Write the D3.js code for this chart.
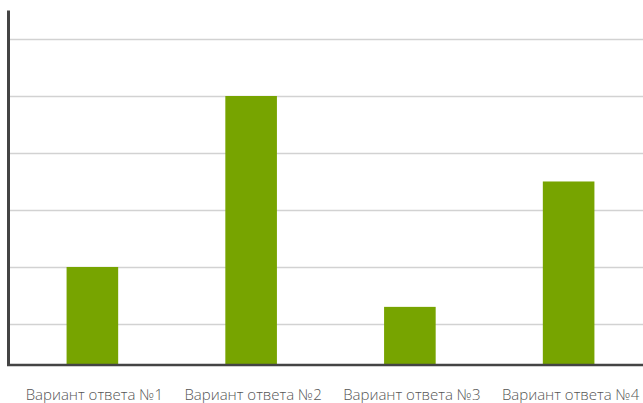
<!DOCTYPE html>
<html>
<head>
<meta charset="utf-8">
<script src="https://cdn.jsdelivr.net/npm/d3@7"></script>
<style>
html,body{margin:0;padding:0;background:#fff;}
svg{display:block;}
</style>
</head>
<body>
<svg id="chart" width="643" height="403"></svg>
<script>
const categories = ["Вариант ответа №1", "Вариант ответа №2", "Вариант ответа №3", "Вариант ответа №4"];
const values = [20, 50, 13, 35];
const gridValues = [10, 20, 30, 40, 50, 60];
const axisMin = 2.8;
const axisMax = 65;

const svg = d3.select("#chart");
const W = 643, H = 403;
const baseY = 365, topY = 10.5;
const axisX = 8.5;

const x = d3.scaleBand().domain(categories).range([13, 648]).paddingInner(0).paddingOuter(0);
const y = d3.scaleLinear().domain([axisMin, axisMax]).range([baseY, topY]);
const barW = x.bandwidth() * 0.325;

// gridlines
svg.append("g").selectAll("line").data(gridValues).join("line")
  .attr("x1", axisX).attr("x2", W)
  .attr("y1", d => Math.round(y(d)) + 0.5).attr("y2", d => Math.round(y(d)) + 0.5)
  .attr("stroke", "#d2d2d2").attr("stroke-width", 1.5);

// bars
svg.append("g").selectAll("rect").data(values).join("rect")
  .attr("x", (d, i) => x(categories[i]) + x.bandwidth() / 2 - barW / 2)
  .attr("width", barW)
  .attr("y", d => y(d))
  .attr("height", d => y(axisMin) - y(d))
  .attr("fill", "#77a400");

// axes
svg.append("line").attr("x1", axisX).attr("x2", axisX).attr("y1", y(axisMax)).attr("y2", baseY + 1)
  .attr("stroke", "#444").attr("stroke-width", 3);
svg.append("line").attr("x1", axisX - 1.5).attr("x2", W).attr("y1", baseY).attr("y2", baseY)
  .attr("stroke", "#444").attr("stroke-width", 2.5);

// labels
svg.append("g").selectAll("text").data(categories).join("text")
  .attr("x", d => x(d) + x.bandwidth() / 2 + 2)
  .attr("y", 400)
  .attr("text-anchor", "middle")
  .attr("font-family", "'Open Sans', sans-serif")
  .attr("font-size", 15)
  .attr("font-weight", 300)
  .attr("fill", "#555")
  .text(d => d);
</script>
</body>
</html>
